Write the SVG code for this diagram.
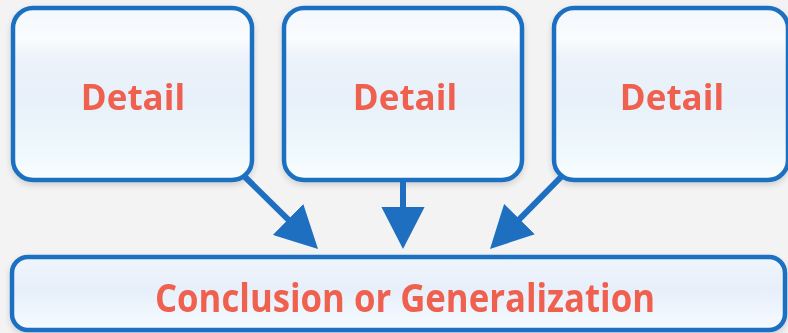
<svg xmlns="http://www.w3.org/2000/svg" width="788" height="333" viewBox="0 0 788 333">
  <defs>
    <linearGradient id="boxFill" x1="0" y1="0" x2="0" y2="1">
      <stop offset="0" stop-color="#f3f7fc"/>
      <stop offset="0.18" stop-color="#fafcfe"/>
      <stop offset="0.3" stop-color="#ebf2fa"/>
      <stop offset="0.55" stop-color="#e8f0f9"/>
      <stop offset="0.85" stop-color="#f0f9fd"/>
      <stop offset="1" stop-color="#f9fdff"/>
    </linearGradient>
    <linearGradient id="barFill" x1="0" y1="0" x2="0" y2="1">
      <stop offset="0" stop-color="#eff5fb"/>
      <stop offset="0.45" stop-color="#e7effa"/>
      <stop offset="1" stop-color="#f5fbff"/>
    </linearGradient>
    <filter id="shadow" x="-10%" y="-10%" width="120%" height="130%">
      <feGaussianBlur in="SourceAlpha" stdDeviation="3"/>
      <feOffset dx="0" dy="3" result="b"/>
      <feComponentTransfer><feFuncA type="linear" slope="0.15"/></feComponentTransfer>
      <feMerge><feMergeNode/><feMergeNode in="SourceGraphic"/></feMerge>
    </filter>
    <!-- large solid arrowhead; tip sits 0.8 of its length past the line end -->
    <marker id="head" viewBox="0 0 10 10" refX="2" refY="5" markerWidth="7" markerHeight="7.2" preserveAspectRatio="none" markerUnits="strokeWidth" orient="auto">
      <path d="M0,0 L10,5 L0,10 Z" fill="#1f6fc1"/>
    </marker>
  </defs>
  <style>
    .box { fill: url(#boxFill); stroke: #1f6fc1; stroke-width: 4.5; }
    .bar { fill: url(#barFill); stroke: #1f6fc1; stroke-width: 4.5; }
    .label { font-family: "Open Sans", "Liberation Sans", sans-serif; font-weight: 700; fill: #f0604f; text-anchor: middle; }
    .conn { stroke: #1f6fc1; stroke-width: 6; fill: none; marker-end: url(#head); }
  </style>

  <rect width="788" height="333" fill="#f3f3f4"/>

  <g id="detail-1" filter="url(#shadow)">
    <rect class="box" x="13" y="8" width="239" height="172" rx="20"/>
    <text class="label" x="133" y="110" font-size="35">Detail</text>
  </g>
  <g id="detail-2" filter="url(#shadow)">
    <rect class="box" x="284" y="8" width="238" height="172" rx="20"/>
    <text class="label" x="405" y="110" font-size="35">Detail</text>
  </g>
  <g id="detail-3" filter="url(#shadow)">
    <rect class="box" x="554" y="8" width="234" height="172" rx="20"/>
    <text class="label" x="672" y="110" font-size="35">Detail</text>
  </g>

  <g id="conclusion" filter="url(#shadow)">
    <rect class="bar" x="12" y="257" width="773" height="73" rx="16"/>
    <text class="label" x="405" y="312" font-size="40" textLength="500" lengthAdjust="spacingAndGlyphs">Conclusion or Generalization</text>
  </g>

  <g id="connectors">
    <line class="conn" x1="244" y1="176" x2="294.1" y2="225.4"/>
    <line class="conn" x1="403" y1="182" x2="403" y2="215.4"/>
    <line class="conn" x1="562" y1="176" x2="513.6" y2="225.1"/>
  </g>
</svg>
